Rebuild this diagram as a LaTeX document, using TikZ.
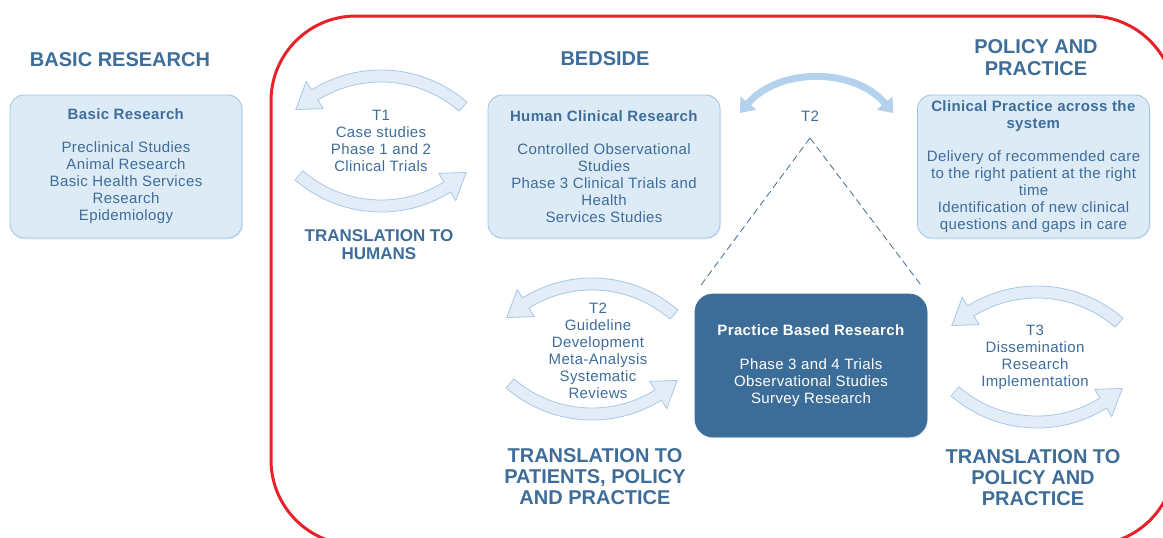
\documentclass[tikz,border=0pt]{standalone}
\usepackage{fontspec}
\setmainfont{Liberation Sans}
\newfontfamily\smallfam[LetterSpace=2.5]{Liberation Sans}
\usetikzlibrary{arrows.meta,shadows}

\definecolor{txtblue}{HTML}{3E6D9A}
\definecolor{boxfill}{HTML}{DDEBF7}
\definecolor{boxline}{HTML}{9DC3E6}
\definecolor{darkbox}{HTML}{3C6D99}
\definecolor{bandfill}{HTML}{E2EDF8}
\definecolor{bandline}{HTML}{A7C7E7}
\definecolor{topblue}{HTML}{B4D2EE}
\definecolor{framered}{HTML}{E8222B}

\newcommand{\smallfont}{\smallfam\fontsize{15}{17}\selectfont}
\newcommand{\bigfont}{\fontsize{20}{22}\selectfont\bfseries}

\tikzset{
  infobox/.style={draw=boxline, fill=boxfill, line width=0.8pt, rounded corners=14pt,
    minimum width=232pt, minimum height=143pt, align=center, text=txtblue,
    font=\smallfont, inner sep=0pt,
    drop shadow={opacity=0.12, shadow xshift=1pt, shadow yshift=-1.5pt}},
  darkinfobox/.style={infobox, draw=darkbox, fill=darkbox, text=white, rounded corners=18pt},
  labeltext/.style={align=center, text=txtblue, font=\smallfont, inner sep=0pt},
  heading/.style={align=center, text=txtblue, font=\bigfont, inner sep=0pt},
  looparrow/.style={draw=bandline, fill=bandfill, line width=0.8pt, line join=round},
  toparrow/.style={draw=topblue, line width=7pt,
    {Triangle[width=20pt,length=13pt]}-{Triangle[width=20pt,length=13pt]}},
  dashline/.style={draw=darkbox, line width=0.8pt, dash pattern=on 7pt off 4pt},
  redframe/.style={draw=framered, line width=3pt, rounded corners=85pt}
}

\begin{document}
\begin{tikzpicture}[x=1pt,y=-1pt]
  \useasboundingbox (0,0) rectangle (1163,538);
  \clip (0,0) rectangle (1163,538);

  % frame round the bedside part
  \draw[redframe] (271,16) rectangle (1175,545);

  % headings
  \node (basichead) at (120,60) [heading] {BASIC RESEARCH};
  \node (bedside) at (605,59) [heading] {BEDSIDE};
  \node (policyhead) at (1036,58) [heading] {POLICY AND\\PRACTICE};
  \node (transhum) at (379,245) [heading, font=\fontsize{17}{18}\selectfont\bfseries] {TRANSLATION TO\\HUMANS};
  \node (transpat) at (595,477) [heading, font=\fontsize{20}{21}\selectfont\bfseries] {TRANSLATION TO\\PATIENTS, POLICY\\AND PRACTICE};
  \node (transpol) at (1033,478) [heading, font=\fontsize{20}{21}\selectfont\bfseries] {TRANSLATION TO\\POLICY AND\\PRACTICE};

  % dashed link from T2 down to the practice box
  \coordinate (apex) at (810,138);
  \node (pbr) at (811,365.5) [darkinfobox] {};
  \draw[dashline, shorten >=8pt] (apex) -- (pbr.north west);
  \draw[dashline, shorten >=8pt] (apex) -- (pbr.north east);

  % boxes
  \node (basic) at (126,166.5) [infobox] {\textbf{Basic Research}\\[16pt]Preclinical Studies\\Animal Research\\Basic Health Services\\Research\\Epidemiology};
  \node (human) at (604,166.5) [infobox] {\textbf{Human Clinical Research}\\[16pt]Controlled Observational\\Studies\\Phase 3 Clinical Trials and\\Health\\Services Studies};
  \node (clinic) at (1033.5,166.5) [infobox] {\textbf{Clinical Practice across the}\\\textbf{system}\\[16pt]Delivery of recommended care\\to the right patient at the right\\time\\Identification of new clinical\\questions and gaps in care};
  \node (pbrtext) at (pbr) [labeltext, text=white] {\textbf{Practice Based Research}\\[17pt]Phase 3 and 4 Trials\\Observational Studies\\Survey Research};

  % circular arrows round the T labels
  \coordinate (t1c) at (381,141);
  \coordinate (t2c) at (592,349);
  \coordinate (t3c) at (1037,357);
  \foreach \pos in {t1c,t2c,t3c}{
    \foreach \rot in {0,180}{
      \begin{scope}[shift={(\pos)}, rotate=\rot, shift={(0,60)}]
        \path[looparrow] (-49:131) arc[start angle=-49, end angle=-122, radius=131]
          -- (-122:141) -- (-133:125) -- (-122:109) -- (-122:119)
          arc[start angle=-122, end angle=-49, radius=119] -- cycle;
      \end{scope}
    }
  }
  \node (t1text) at (t1c) [labeltext] {T1\\Case studies\\Phase 1 and 2\\Clinical Trials};
  \node (t2text) at (598,351) [labeltext] {T2\\Guideline\\Development\\Meta-Analysis\\Systematic\\Reviews};
  \node (t3text) at (1035,357) [labeltext] {T3\\Dissemination\\Research\\Implementation};

  % T2 between bedside and practice
  \coordinate (topleft) at (740,113);
  \coordinate (topright) at (893,113);
  \draw[toparrow] (topleft) to[bend left=50] (topright);
  \node (t2top) at (810,116) [labeltext] {T2};
\end{tikzpicture}
\end{document}
